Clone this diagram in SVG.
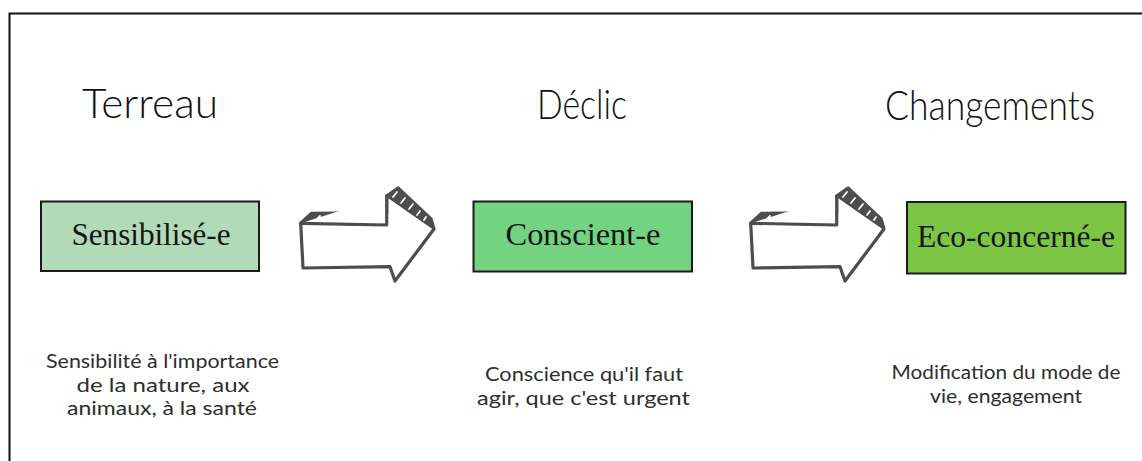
<svg xmlns="http://www.w3.org/2000/svg" width="1142" height="461" viewBox="0 0 1142 461">
<style>
.frame{fill:none;stroke:#111;stroke-width:2}
.box{stroke:#1a1a1a;stroke-width:2}
.title{font-family:Lato,"Open Sans","DejaVu Sans",sans-serif;font-weight:300;font-size:42px;fill:#111;text-anchor:middle}
.lbl{font-family:"Liberation Serif","DejaVu Serif",serif;font-size:32px;fill:#151515;text-anchor:middle}
.desc{font-family:Lato,"Open Sans","DejaVu Sans",sans-serif;font-weight:400;font-size:19.5px;fill:#2e2e2e;text-anchor:middle}
.ar{fill:#fff;stroke:#4d4d4d;stroke-width:3.2;stroke-linejoin:round;stroke-linecap:round}
.band{fill:#4d4d4d;stroke:#4d4d4d;stroke-width:2;stroke-linejoin:round}
.sl{stroke:#fff;stroke-width:1.8;stroke-linecap:round}
</style>
<defs>
<g id="arrow">
<path class="ar" d="M300.7,223.3 L311.7,213.3 L386.7,212.7 L386.7,196 L398,188 L431,219 L434,229 L395,281 L390,266.7 L303,268 Z"/>
<path class="band" d="M300.7,223.3 L311.7,213.3 L386.7,212.7 L386.7,225 Z"/>
<path class="band" d="M386.7,196 L398,188 L431,219 L434,229 Z"/>
<path class="ar" fill="none" d="M300.7,223.3 L386.7,225 L386.7,196"/>
<line class="sl" x1="315" y1="221" x2="320" y2="216"/>
<line class="sl" x1="326" y1="221" x2="331" y2="216"/>
<line class="sl" x1="337" y1="221" x2="342" y2="216"/>
<line class="sl" x1="348" y1="221" x2="353" y2="216"/>
<line class="sl" x1="359" y1="221" x2="363" y2="217"/>
<line class="sl" x1="370" y1="221" x2="373" y2="218"/>
<line class="sl" x1="393" y1="197" x2="397" y2="192"/>
<line class="sl" x1="401" y1="203" x2="405" y2="198"/>
<line class="sl" x1="409" y1="209" x2="413" y2="204"/>
<line class="sl" x1="417" y1="215" x2="420" y2="211"/>
<line class="sl" x1="424" y1="220" x2="426" y2="217"/>
</g>
</defs>
<path class="frame" d="M9.5,461 V13.5 H1142"/>
<g id="connectors">
<use href="#arrow"/>
<use href="#arrow" transform="translate(450,0)"/>
</g>
<g id="title-terreau"><text class="title" x="150" y="118" textLength="136" lengthAdjust="spacingAndGlyphs">Terreau</text></g>
<g id="title-declic"><text class="title" x="582" y="119" textLength="90" lengthAdjust="spacingAndGlyphs">Déclic</text></g>
<g id="title-changements"><text class="title" x="990" y="120" textLength="210" lengthAdjust="spacingAndGlyphs">Changements</text></g>
<g id="node-sensibilise">
<rect class="box" x="41" y="201.5" width="218" height="69.5" fill="#b1dab8"/>
<text class="lbl" x="151" y="245" textLength="159" lengthAdjust="spacingAndGlyphs">Sensibilisé-e</text>
</g>
<g id="node-conscient">
<rect class="box" x="473.5" y="201.5" width="218.5" height="70" fill="#73d381"/>
<text class="lbl" x="583" y="245" textLength="155" lengthAdjust="spacingAndGlyphs">Conscient-e</text>
</g>
<g id="node-eco">
<rect class="box" x="907" y="202" width="218.5" height="71.5" fill="#7cc545"/>
<text class="lbl" x="1016" y="246.5" textLength="198" lengthAdjust="spacingAndGlyphs">Eco-concerné-e</text>
</g>
<g id="desc-terreau">
<text class="desc" x="162.5" y="368" textLength="233" lengthAdjust="spacingAndGlyphs">Sensibilité à l'importance</text>
<text class="desc" x="163" y="391.5" textLength="173" lengthAdjust="spacingAndGlyphs">de la nature, aux</text>
<text class="desc" x="162" y="415" textLength="190" lengthAdjust="spacingAndGlyphs">animaux, à la santé</text>
</g>
<g id="desc-declic">
<text class="desc" x="584" y="381" textLength="198" lengthAdjust="spacingAndGlyphs">Conscience qu'il faut</text>
<text class="desc" x="583.5" y="404.5" textLength="213" lengthAdjust="spacingAndGlyphs">agir, que c'est urgent</text>
</g>
<g id="desc-changements">
<text class="desc" x="1006" y="379" textLength="229" lengthAdjust="spacingAndGlyphs">Modification du mode de</text>
<text class="desc" x="1006" y="402.5" textLength="152" lengthAdjust="spacingAndGlyphs">vie, engagement</text>
</g>
</svg>
